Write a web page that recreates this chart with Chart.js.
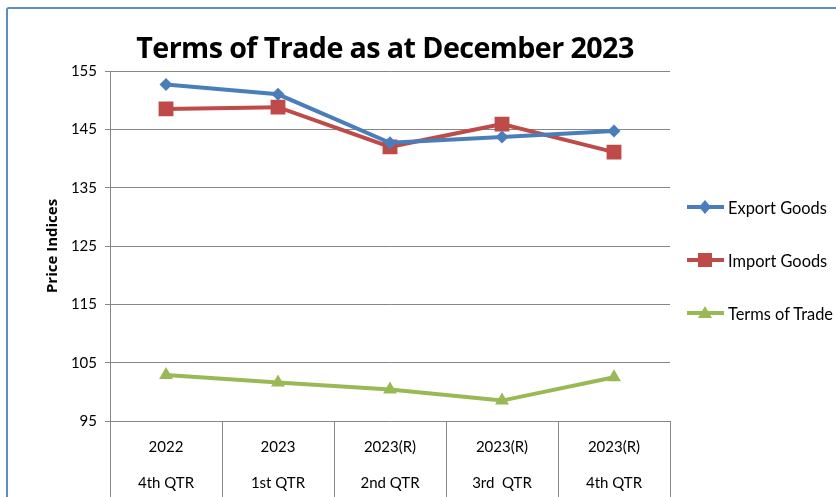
<!DOCTYPE html>
<html>
<head>
<meta charset="utf-8">
<script src="https://cdn.jsdelivr.net/npm/chart.js@4.4.1/dist/chart.umd.min.js"></script>
<style>
  html, body { margin: 0; padding: 0; background: #fff; }
  #wrap { position: relative; width: 836px; height: 497px; overflow: hidden; background: #fff; }
  #frame { position: absolute; left: 6px; top: 7px; width: 900px; height: 600px; border: 2px solid #5b8cc8; border-radius: 3px; box-sizing: border-box; }
  #c { position: absolute; left: 0; top: 0; }
  #title { position: absolute; left: 0; width: 770px; top: 27px; text-align: center; font-family: "Open Sans", sans-serif; font-weight: 700; font-size: 28.7px; letter-spacing: -0.6px; color: #000; line-height: 40px; }
  .leg { position: absolute; left: 686px; height: 20px; display: flex; align-items: center; font-family: Lato, "Open Sans", sans-serif; font-size: 16.4px; color: #000; white-space: nowrap; }
  .leg svg { margin-right: 3px; }
</style>
</head>
<body>
<div id="wrap">
  <div id="frame"></div>
  <canvas id="c" width="836" height="497"></canvas>
  <div id="title">Terms of Trade as at December 2023</div>
  <div id="legend"></div>
</div>
<script>
const yearLabels = ["2022", "2023", "2023(R)", "2023(R)", "2023(R)"];
const quarterLabels = ["4th QTR", "1st QTR", "2nd QTR", "3rd  QTR", "4th QTR"];
const exportGoods = [152.7, 151.0, 142.7, 143.7, 144.7];
const importGoods = [148.5, 148.8, 142.0, 145.9, 141.1];
const termsOfTrade = [102.9, 101.6, 100.4, 98.5, 102.5];
const seriesNames = ["Export Goods", "Import Goods", "Terms of Trade"];
const yTicks = [95, 105, 115, 125, 135, 145, 155];

const colors = ["#4a7ebb", "#be4b48", "#98b954"];
const styles = ["rectRot", "rect", "triangle"];
const radii = [6.5, 10.5, 8];
const values = [exportGoods, importGoods, termsOfTrade];

const labels = yearLabels.map((y, i) => [y, quarterLabels[i]]);

const datasets = seriesNames.map((name, i) => ({
  label: name,
  data: values[i],
  borderColor: colors[i],
  backgroundColor: colors[i],
  borderWidth: 4,
  pointStyle: styles[i],
  pointRadius: radii[i],
  pointHoverRadius: radii[i],
  pointBorderWidth: 0,
  tension: 0
}));

const tablePlugin = {
  id: 'tableLines',
  afterDraw(chart) {
    const x = chart.scales.x;
    const ctx = chart.ctx;
    const ca = chart.chartArea;
    ctx.save();
    ctx.strokeStyle = '#868686';
    ctx.lineWidth = 1;
    for (let i = 0; i <= yearLabels.length; i++) {
      const px = Math.round(x.getPixelForValue(i - 0.5)) + 0.5;
      ctx.beginPath();
      ctx.moveTo(px, ca.bottom);
      ctx.lineTo(px, chart.height);
      ctx.stroke();
    }
    ctx.restore();
  }
};

new Chart(document.getElementById('c'), {
  type: 'line',
  data: { labels, datasets },
  options: {
    responsive: false,
    animation: false,
    layout: { padding: { top: 71, right: 166, bottom: 0, left: 0 } },
    plugins: { legend: { display: false }, tooltip: { enabled: false }, title: { display: false } },
    scales: {
      x: {
        offset: true,
        grid: { display: false },
        border: { display: false },
        ticks: {
          color: '#000',
          font: { family: 'Lato, "Open Sans", sans-serif', size: 15, lineHeight: 2.4 },
          padding: 0,
          maxRotation: 0,
          autoSkip: false
        },
        afterFit(s) { s.height = 76; }
      },
      y: {
        min: 95, max: 155,
        afterBuildTicks(s) { s.ticks = yTicks.map(v => ({ value: v })); },
        grid: { color: '#868686', lineWidth: 1, tickLength: 5, drawTicks: true },
        border: { color: '#868686', width: 1 },
        ticks: {
          color: '#000',
          font: { family: 'Lato, "Open Sans", sans-serif', size: 15 },
          padding: 8
        },
        title: {
          display: true,
          text: 'Price Indices',
          color: '#000',
          font: { family: '"Open Sans", sans-serif', size: 15, weight: 'bold' },
          padding: { top: 44, bottom: 0 }
        },
        afterFit(s) { s.width = 110; }
      }
    }
  },
  plugins: [tablePlugin]
});

// HTML legend
const legendTops = [197, 250, 303];
const legend = document.getElementById('legend');
seriesNames.forEach((name, i) => {
  const d = document.createElement('div');
  d.className = 'leg';
  d.style.top = legendTops[i] + 'px';
  let marker = '';
  if (i === 0) marker = '<polygon points="19,3 25,10 19,17 13,10" fill="' + colors[i] + '"/>';
  if (i === 1) marker = '<rect x="12" y="3" width="14" height="14" fill="' + colors[i] + '"/>';
  if (i === 2) marker = '<polygon points="19,3 26,15 12,15" fill="' + colors[i] + '"/>';
  d.innerHTML = '<svg width="39" height="20"><line x1="1" y1="10" x2="38" y2="10" stroke="' + colors[i] + '" stroke-width="4"/>' + marker + '</svg><span>' + name + '</span>';
  legend.appendChild(d);
});
</script>
</body>
</html>
